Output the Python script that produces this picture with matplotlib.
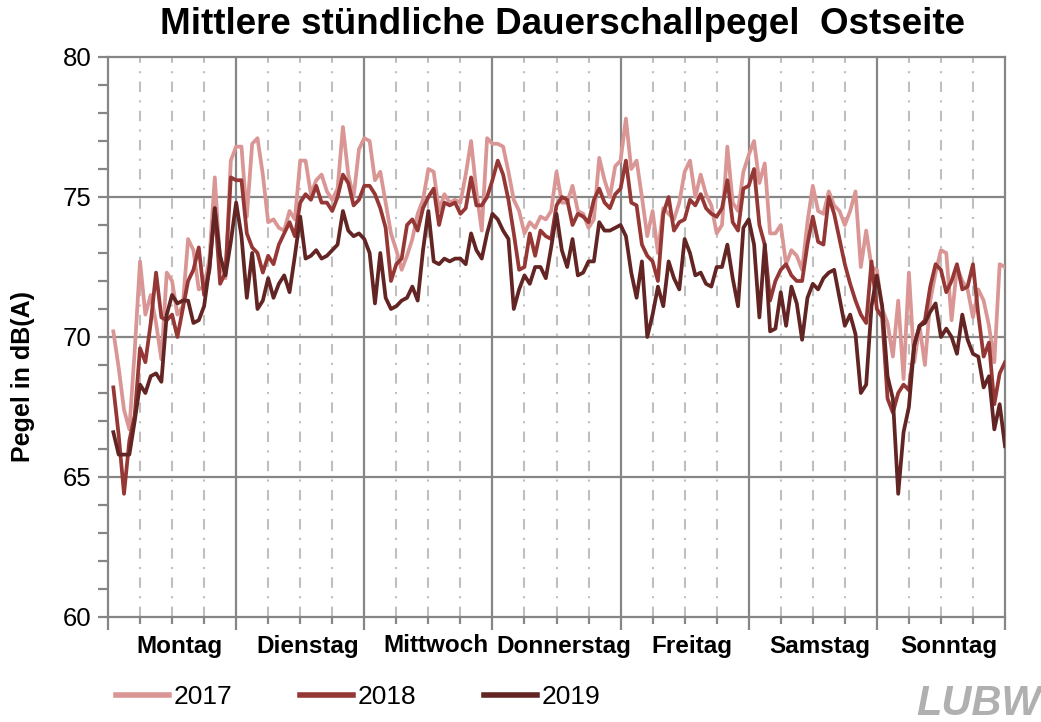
import numpy as np
import matplotlib
matplotlib.use("Agg")
import matplotlib.pyplot as plt
from matplotlib.transforms import blended_transform_factory

plt.rcParams['font.family'] = ['Liberation Sans', 'DejaVu Sans']
plt.rcParams['lines.scale_dashes'] = False

days = ["Montag", "Dienstag", "Mittwoch", "Donnerstag", "Freitag", "Samstag", "Sonntag"]
years = ["2017", "2018", "2019"]

pegel_2017 = [
    # Montag
    70.2, 68.9, 67.4, 66.7, 69.5, 72.7, 70.8, 71.5, 70.5, 69.2, 72.3, 72.0,
    70.8, 71.1, 73.5, 73.1, 71.7, 71.8, 72.8, 75.7, 72.6, 72.1, 76.3, 76.8,
    # Dienstag
    76.8, 74.3, 76.9, 77.1, 75.8, 74.1, 74.2, 73.9, 73.8, 74.5, 74.2, 76.3,
    76.3, 75.1, 75.6, 75.8, 75.2, 74.9, 75.3, 77.5, 75.8, 75.0, 76.7, 77.1,
    # Mittwoch
    77.0, 75.6, 75.9, 74.8, 73.7, 73.1, 72.4, 72.9, 73.5, 74.4, 74.9, 76.0,
    75.9, 74.5, 75.1, 74.8, 74.9, 74.8, 75.8, 77.0, 75.2, 73.8, 77.1, 76.9,
    # Donnerstag
    76.9, 76.8, 75.9, 74.9, 74.5, 73.7, 74.1, 73.9, 74.3, 74.2, 74.5, 75.9,
    74.8, 74.8, 75.4, 74.5, 74.4, 73.9, 74.2, 76.4, 75.6, 75.0, 76.1, 76.3,
    # Freitag
    77.8, 76.0, 76.3, 75.0, 73.6, 74.5, 73.0, 74.6, 74.4, 74.2, 74.8, 75.9,
    76.3, 75.0, 75.8, 75.1, 74.7, 73.7, 74.0, 76.8, 74.8, 74.5, 75.9, 76.5,
    # Samstag
    77.0, 75.5, 76.2, 73.7, 73.7, 74.0, 72.6, 73.1, 72.9, 72.4, 74.1, 75.4,
    74.5, 74.4, 75.2, 74.7, 74.5, 74.0, 74.5, 75.2, 72.5, 73.8, 72.5, 72.4,
    # Sonntag
    71.0, 70.5, 69.3, 71.3, 68.5, 72.3, 69.1, 70.4, 69.0, 71.3, 72.3, 73.1,
    73.0, 70.6, 72.5, 72.0, 71.7, 70.7, 71.7, 71.3, 70.4, 69.1, 72.6, 72.5,
]

pegel_2018 = [
    # Montag
    68.2, 66.5, 64.4, 66.3, 67.2, 69.6, 69.1, 70.5, 72.3, 70.7, 70.6, 70.8,
    70.0, 71.0, 72.0, 72.4, 73.2, 71.5, 72.4, 74.6, 71.9, 72.3, 75.7, 75.6,
    # Dienstag
    75.6, 73.7, 73.2, 73.0, 72.3, 72.9, 72.6, 73.3, 73.7, 74.1, 73.6, 74.8,
    75.1, 74.9, 75.4, 74.8, 74.8, 74.5, 75.0, 75.8, 75.5, 74.7, 74.9, 75.4,
    # Mittwoch
    75.4, 75.1, 74.6, 73.9, 72.0, 72.6, 72.8, 74.0, 74.2, 73.8, 74.6, 75.0,
    75.3, 74.0, 74.8, 74.7, 74.8, 74.4, 74.6, 75.7, 74.7, 74.7, 75.0, 75.6,
    # Donnerstag
    76.3, 75.8, 74.9, 73.7, 72.4, 72.5, 73.7, 72.9, 73.8, 73.6, 73.5, 74.7,
    75.0, 74.9, 74.0, 74.4, 74.3, 74.1, 74.9, 75.3, 74.8, 74.6, 75.1, 75.3,
    # Freitag
    76.3, 74.8, 74.7, 73.3, 72.9, 72.7, 72.0, 74.4, 75.0, 73.8, 74.1, 74.2,
    74.9, 74.7, 75.1, 74.6, 74.4, 74.3, 74.6, 75.6, 74.1, 73.8, 75.3, 75.4,
    # Samstag
    76.0, 74.0, 73.3, 71.3, 72.0, 72.4, 72.6, 72.2, 72.0, 72.0, 73.3, 74.3,
    73.4, 73.3, 75.0, 74.4, 73.5, 72.6, 71.9, 71.3, 70.8, 70.5, 72.7, 71.0,
    # Sonntag
    70.7, 67.8, 67.3, 68.0, 68.3, 68.1, 69.7, 70.4, 70.6, 71.8, 72.6, 72.4,
    71.6, 72.0, 72.6, 71.7, 71.8, 72.6, 70.8, 69.3, 69.8, 67.6, 68.7, 69.1,
]

pegel_2019 = [
    # Montag
    66.6, 65.8, 65.8, 65.8, 67.0, 68.3, 68.0, 68.6, 68.7, 68.4, 70.8, 71.5,
    71.2, 71.3, 71.3, 70.5, 70.6, 71.1, 72.5, 74.6, 72.9, 72.2, 73.4, 74.8,
    # Dienstag
    73.6, 71.4, 73.0, 71.0, 71.3, 72.1, 71.4, 71.9, 72.2, 71.6, 72.9, 74.3,
    72.8, 72.9, 73.1, 72.8, 72.9, 73.1, 73.3, 74.5, 73.8, 73.6, 73.7, 73.5,
    # Mittwoch
    73.0, 71.2, 73.0, 71.4, 71.0, 71.1, 71.3, 71.4, 71.8, 71.3, 73.1, 74.5,
    72.7, 72.6, 72.8, 72.7, 72.8, 72.8, 72.6, 73.7, 73.1, 72.8, 73.7, 74.4,
    # Donnerstag
    74.2, 73.8, 73.5, 71.0, 71.7, 72.2, 71.9, 72.5, 72.5, 72.1, 73.2, 74.4,
    73.1, 72.5, 73.5, 72.2, 72.3, 72.7, 72.7, 74.1, 73.8, 73.8, 73.9, 74.0,
    # Freitag
    73.6, 72.3, 71.4, 72.7, 70.0, 70.8, 71.8, 71.1, 72.7, 72.1, 71.7, 73.5,
    73.0, 72.2, 72.3, 71.9, 71.8, 72.5, 72.5, 73.3, 72.1, 71.1, 73.9, 74.2,
    # Samstag
    73.3, 70.7, 73.3, 70.2, 70.3, 71.6, 70.4, 71.8, 71.2, 69.9, 71.4, 71.9,
    71.7, 72.1, 72.3, 72.4, 71.4, 70.4, 70.8, 70.1, 68.0, 68.3, 71.1, 72.2,
    # Sonntag
    71.1, 68.6, 67.8, 64.4, 66.6, 67.5, 69.7, 70.4, 70.5, 70.9, 71.2, 70.0,
    70.3, 70.0, 69.4, 70.8, 69.9, 69.4, 69.3, 68.2, 68.6, 66.7, 67.6, 66.1,
]

colors = ["#D99694", "#953735", "#632523"]
series = [pegel_2017, pegel_2018, pegel_2019]

W, H = 1041, 722
fig = plt.figure(figsize=(W / 100, H / 100), dpi=100)
ax = fig.add_axes([108 / W, 1 - 617 / H, (1005 - 108) / W, (617 - 57) / H])

n_hours = len(pegel_2017)
hours = np.arange(1, n_hours + 1)

grid_gray = "#868686"
# horizontal grid
for yv in [65, 70, 75]:
    ax.axhline(yv, color=grid_gray, lw=1.6, zorder=1)
# vertical lines
for d in range(len(days)):
    for h in (6, 12, 18):
        ax.axvline(d * 24 + h, color="#BFBFBF", lw=1.5,
                   linestyle=(0, (7.5, 6.0, 1.5, 6.0)), zorder=1)
    if d > 0:
        ax.axvline(d * 24, color=grid_gray, lw=1.6, zorder=1)

for yr, vals, c in zip(years, series, colors):
    ax.plot(hours, vals, color=c, lw=2.7, label=yr, zorder=3,
            solid_joinstyle="round")

ax.set_xlim(0, n_hours)
ax.set_ylim(60, 80)
ax.set_yticks([60, 65, 70, 75, 80])
ax.set_yticks(np.arange(60, 81, 1), minor=True)
ax.set_xticks(np.arange(0, n_hours + 1, 24))
ax.set_xticks(np.arange(0, n_hours + 1, 6), minor=True)
ax.set_xticklabels([])
ax.tick_params(axis="y", which="major", length=7, width=1.6, color=grid_gray,
               labelsize=18.5, pad=5)
ax.tick_params(axis="y", which="minor", length=7, width=1.6, color=grid_gray)
ax.tick_params(axis="x", which="major", length=9, width=1.6, color=grid_gray)
ax.tick_params(axis="x", which="minor", length=5, width=1.6, color=grid_gray)
for s in ax.spines.values():
    s.set_color(grid_gray)
    s.set_linewidth(1.6)

trans = blended_transform_factory(ax.transData, fig.transFigure)
for d, name in enumerate(days):
    ax.text(d * 24 + 13.4, 1 - 646 / H, name, transform=trans, ha="center", va="center",
            fontsize=17.5, fontweight="bold")

fig.text(23 / W, 1 - 376 / H, "Pegel in dB(A)", rotation=90, ha="center", va="center",
         fontsize=18, fontweight="bold")

fig.text(562 / W, 1 - 25 / H, "Mittlere stündliche Dauerschallpegel  Ostseite",
         ha="center", va="center", fontsize=26.5, fontweight="bold")

leg = fig.legend(loc="center left", bbox_to_anchor=(92 / W, 1 - 697 / H), ncol=3,
                 frameon=False, fontsize=19, handlelength=2.0, columnspacing=2.55,
                 handletextpad=0.2)
for l in leg.get_lines():
    l.set_linewidth(4)

fig.text(1041 / W, 1 - 704 / H, "LUBW", ha="right", va="center", fontsize=30,
         fontweight="bold", style="italic", color="#B0B0B0",
         family=["Liberation Sans Narrow", "Liberation Sans"])

fig.savefig("out.png", dpi=100)
